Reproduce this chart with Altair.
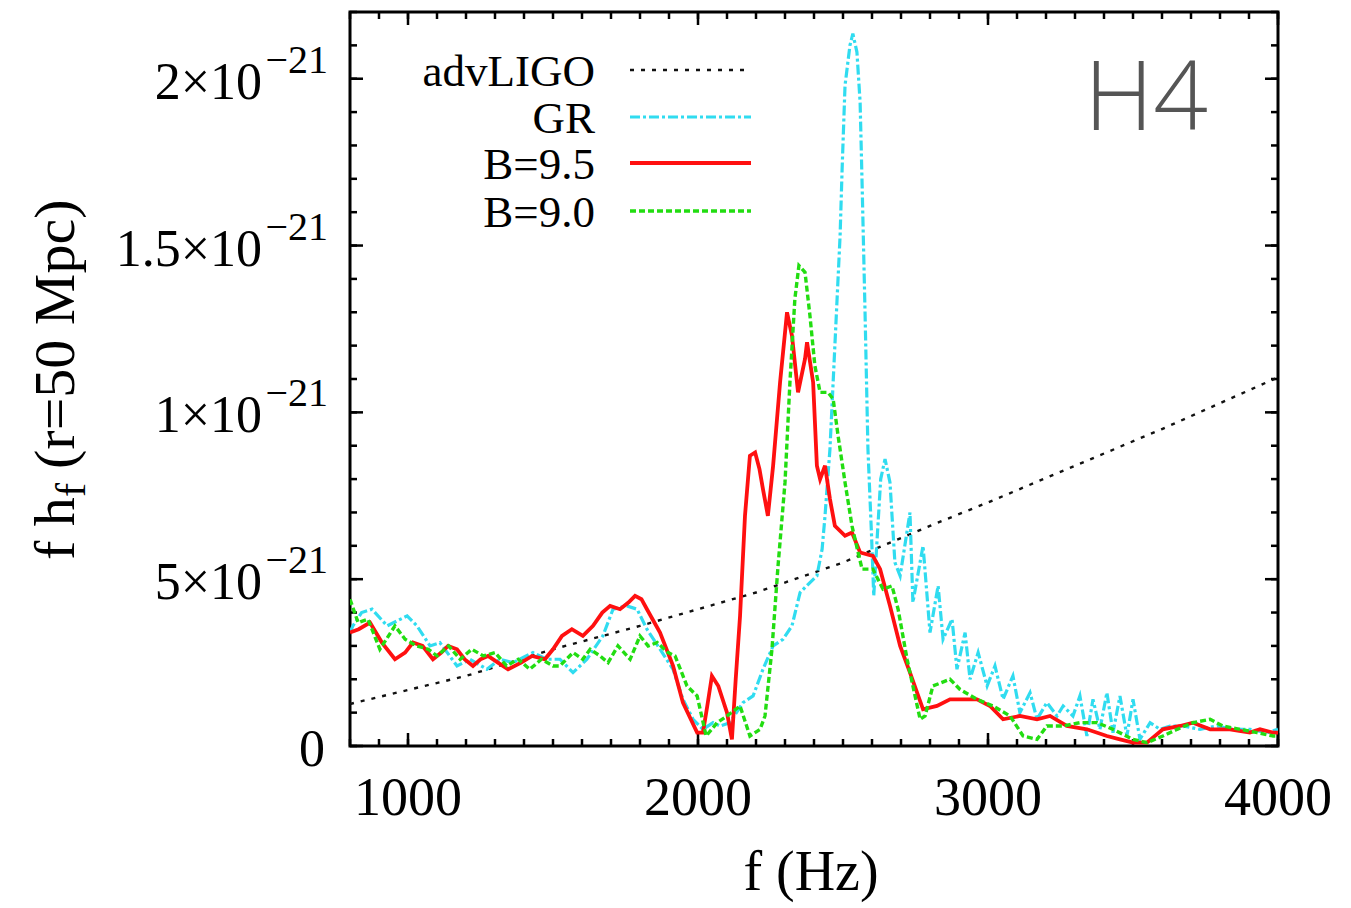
import altair as alt
import pandas as pd

# ---------------- data (y values in units of 1e-21) ----------------
F_LIGO = [800, 1000, 1200, 1500, 1800, 2000, 2200, 2500, 2800, 3000, 3300, 3600, 4000]
V_LIGO = [0.126, 0.168, 0.21, 0.29, 0.36, 0.41, 0.46, 0.55, 0.66, 0.73, 0.84, 0.95, 1.105]

F_GR = [800, 810, 840, 876, 928, 997, 1031, 1076, 1110, 1169, 1214, 1272, 1317, 1362, 1431, 1479,
        1524, 1569, 1617, 1672, 1707, 1755, 1790, 1824, 1869, 1914, 1948, 1983, 2017, 2052, 2076,
        2110, 2155, 2190, 2224, 2259, 2293, 2324, 2352, 2386, 2410, 2428, 2438, 2455, 2472, 2490,
        2497, 2507, 2524, 2534, 2548, 2559, 2566, 2576, 2586, 2598, 2606, 2630, 2645, 2662, 2679,
        2697, 2731, 2741, 2776, 2800, 2828, 2845, 2876, 2893, 2921, 2938, 2966, 2997, 3024, 3052,
        3086, 3110, 3145, 3169, 3203, 3238, 3259, 3293, 3317, 3341, 3362, 3386, 3410, 3431, 3455,
        3479, 3500, 3524, 3559, 3593, 3628, 3672, 3731, 3790, 3845, 3903, 3962, 4000]
V_GR = [0.34, 0.36, 0.40, 0.41, 0.36, 0.39, 0.36, 0.30, 0.31, 0.24, 0.26, 0.23, 0.26, 0.25, 0.28, 0.26,
        0.26, 0.22, 0.26, 0.33, 0.41, 0.42, 0.41, 0.35, 0.29, 0.23, 0.14, 0.08, 0.05, 0.07, 0.06,
        0.07, 0.13, 0.15, 0.23, 0.30, 0.32, 0.36, 0.46, 0.49, 0.51, 0.59, 0.69, 0.89, 1.20, 1.53,
        1.73, 1.98, 2.10, 2.135, 2.08, 1.93, 1.68, 1.30, 0.89, 0.64, 0.45, 0.80, 0.86, 0.79, 0.55,
        0.51, 0.70, 0.43, 0.60, 0.34, 0.48, 0.32, 0.38, 0.23, 0.34, 0.20, 0.28, 0.18, 0.24, 0.14,
        0.21, 0.10, 0.16, 0.08, 0.13, 0.09, 0.12, 0.09, 0.15, 0.03, 0.14, 0.05, 0.16, 0.04, 0.15,
        0.03, 0.14, 0.02, 0.07, 0.05, 0.06, 0.06, 0.05, 0.06, 0.05, 0.05, 0.04, 0.05]

F_B95 = [800, 830, 869, 910, 955, 990, 1017, 1050, 1086, 1115,
         1138, 1169, 1195, 1224, 1250, 1276, 1310, 1345, 1390, 1428,
         1472, 1500, 1531, 1565, 1603, 1638, 1670, 1697, 1731, 1760,
         1783, 1805, 1824, 1869, 1914, 1948, 1997, 2017, 2032, 2048,
         2070, 2100, 2117, 2130, 2145, 2162, 2179, 2197, 2212, 2224,
         2241, 2259, 2283, 2307, 2324, 2345, 2369, 2376, 2397, 2410,
         2421, 2438, 2455, 2472, 2507, 2531, 2559, 2603, 2628, 2662,
         2697, 2731, 2776, 2824, 2869, 2914, 2962, 3007, 3052, 3110,
         3169, 3214, 3272, 3341, 3410, 3455, 3500, 3548, 3603, 3662,
         3707, 3766, 3834, 3903, 3938, 3983, 4000]
V_B95 = [0.34, 0.35, 0.37, 0.31, 0.26, 0.28, 0.31, 0.30, 0.26, 0.28,
         0.30, 0.29, 0.26, 0.24, 0.26, 0.27, 0.25, 0.23, 0.25, 0.27,
         0.26, 0.29, 0.33, 0.35, 0.33, 0.36, 0.40, 0.42, 0.41, 0.43,
         0.45, 0.44, 0.41, 0.34, 0.24, 0.13, 0.04, 0.04, 0.12, 0.21,
         0.18, 0.10, 0.02, 0.20, 0.39, 0.69, 0.87, 0.88, 0.83, 0.77,
         0.69, 0.84, 1.09, 1.30, 1.23, 1.06, 1.16, 1.21, 1.09, 0.84,
         0.80, 0.84, 0.74, 0.66, 0.63, 0.64, 0.58, 0.57, 0.53, 0.42,
         0.30, 0.22, 0.11, 0.12, 0.14, 0.14, 0.14, 0.12, 0.08, 0.09,
         0.08, 0.09, 0.06, 0.05, 0.03, 0.02, 0.01, 0.01, 0.05, 0.06,
         0.07, 0.05, 0.05, 0.04, 0.05, 0.04, 0.04]

F_B90 = [800, 828, 862, 903, 955, 990, 1030, 1070, 1100, 1140,
         1180, 1220, 1260, 1300, 1340, 1380, 1420, 1460, 1500, 1524,
         1569, 1603, 1628, 1662, 1690, 1724, 1766, 1800, 1828, 1859,
         1897, 1921, 1962, 1997, 2010, 2028, 2066, 2100, 2145, 2179,
         2214, 2231, 2255, 2276, 2300, 2317, 2334, 2348, 2369, 2386,
         2403, 2421, 2448, 2466, 2483, 2507, 2531, 2552, 2566, 2603,
         2638, 2669, 2690, 2721, 2741, 2766, 2783, 2810, 2869, 2903,
         2962, 3017, 3076, 3121, 3169, 3203, 3259, 3317, 3376, 3431,
         3500, 3548, 3603, 3652, 3707, 3766, 3810, 3869, 3928, 3983, 4000]
V_B90 = [0.44, 0.37, 0.38, 0.29, 0.36, 0.32, 0.30, 0.29, 0.27, 0.30,
         0.26, 0.29, 0.27, 0.28, 0.24, 0.26, 0.23, 0.26, 0.24, 0.24,
         0.28, 0.26, 0.29, 0.27, 0.25, 0.30, 0.26, 0.33, 0.30, 0.31,
         0.28, 0.27, 0.18, 0.15, 0.10, 0.03, 0.07, 0.09, 0.12, 0.03,
         0.05, 0.09, 0.29, 0.54, 0.79, 1.09, 1.34, 1.44, 1.42, 1.29,
         1.14, 1.06, 1.06, 1.04, 0.93, 0.79, 0.66, 0.58, 0.53, 0.53,
         0.47, 0.48, 0.41, 0.26, 0.18, 0.08, 0.09, 0.18, 0.20, 0.17,
         0.14, 0.12, 0.09, 0.03, 0.02, 0.06, 0.06, 0.07, 0.07, 0.05,
         0.02, 0.01, 0.03, 0.05, 0.07, 0.08, 0.06, 0.05, 0.04, 0.03, 0.03]

SERIES_NAMES = ["advLIGO", "GR", "B=9.5", "B=9.0"]

X_LABEL_VALUES = [1000, 2000, 3000, 4000]
X_LABEL_TEXT = ["1000", "2000", "3000", "4000"]
X_MAJOR = [1000, 2000, 3000, 4000]
X_MINOR = list(range(800, 4001, 100))
Y_MAJOR = [0.0, 0.5, 1.0, 1.5, 2.0]
Y_MINOR = [round(0.1 * i, 1) for i in range(0, 23)]
Y_LABEL_MANT = ["0", "5×10", "1×10", "1.5×10", "2×10"]
Y_LABEL_EXP = ["", "−21", "−21", "−21", "−21"]
X_TITLE = "f (Hz)"

# ---------------- styles ----------------
W, H = 928, 734
SERIF = "Liberation Serif"
STYLES = {
    "advLIGO": dict(color="#111111", strokeDash=[4, 7], strokeWidth=2.4),
    "GR": dict(color="#30dcf0", strokeDash=[10, 3, 3, 3], strokeWidth=3.2),
    "B=9.5": dict(color="#ff1010", strokeWidth=3.8),
    "B=9.0": dict(color="#22dd11", strokeDash=[6, 3], strokeWidth=3.4),
}

xs = alt.Scale(domain=[800, 4000], nice=False, zero=False)
ys = alt.Scale(domain=[0, 2.2], nice=False, zero=False)

one = alt.Data(values=[{"k": 1}])


def series(f, v, name):
    df = pd.DataFrame({"f": f, "v": v})
    return alt.Chart(df).mark_line(clip=True, **STYLES[name]).encode(
        x=alt.X("f:Q", scale=xs, axis=None),
        y=alt.Y("v:Q", scale=ys, axis=None),
    )


layers = []

tick_color = "black"
xmaj = pd.DataFrame({"t": X_MAJOR})
xmin = pd.DataFrame({"t": X_MINOR})
ymaj = pd.DataFrame({"t": Y_MAJOR})
ymin = pd.DataFrame({"t": Y_MINOR})

layers.append(alt.Chart(xmaj).mark_rule(color=tick_color, strokeWidth=2.5).encode(
    x=alt.X("t:Q", scale=xs, axis=None), y=alt.value(H), y2=alt.value(H - 13)))
layers.append(alt.Chart(xmaj).mark_rule(color=tick_color, strokeWidth=2.5).encode(
    x=alt.X("t:Q", scale=xs, axis=None), y=alt.value(0), y2=alt.value(13)))
layers.append(alt.Chart(xmin).mark_rule(color=tick_color, strokeWidth=2.5).encode(
    x=alt.X("t:Q", scale=xs, axis=None), y=alt.value(H), y2=alt.value(H - 7)))
layers.append(alt.Chart(xmin).mark_rule(color=tick_color, strokeWidth=2.5).encode(
    x=alt.X("t:Q", scale=xs, axis=None), y=alt.value(0), y2=alt.value(7)))
layers.append(alt.Chart(ymaj).mark_rule(color=tick_color, strokeWidth=2.5).encode(
    y=alt.Y("t:Q", scale=ys, axis=None), x=alt.value(0), x2=alt.value(13)))
layers.append(alt.Chart(ymaj).mark_rule(color=tick_color, strokeWidth=2.5).encode(
    y=alt.Y("t:Q", scale=ys, axis=None), x=alt.value(W), x2=alt.value(W - 13)))
layers.append(alt.Chart(ymin).mark_rule(color=tick_color, strokeWidth=2.5).encode(
    y=alt.Y("t:Q", scale=ys, axis=None), x=alt.value(0), x2=alt.value(7)))
layers.append(alt.Chart(ymin).mark_rule(color=tick_color, strokeWidth=2.5).encode(
    y=alt.Y("t:Q", scale=ys, axis=None), x=alt.value(W), x2=alt.value(W - 7)))

# x tick labels and title
xlab = pd.DataFrame({"t": X_LABEL_VALUES, "s": X_LABEL_TEXT})
layers.append(alt.Chart(xlab).mark_text(align="center", baseline="alphabetic", font=SERIF,
                                        fontSize=54, color="black").encode(
    x=alt.X("t:Q", scale=xs, axis=None), y=alt.value(H + 69), text="s:N"))
layers.append(alt.Chart(one).mark_text(text=X_TITLE, align="center", baseline="alphabetic",
                                       font=SERIF, fontSize=56, color="black").encode(
    x=alt.value(W / 2 - 3), y=alt.value(878)))

# y tick labels: mantissa + superscript exponent
ylab = pd.DataFrame({"t": Y_MAJOR, "m": Y_LABEL_MANT, "e": Y_LABEL_EXP})
layers.append(alt.Chart(ylab).transform_filter("datum.t == 0").mark_text(
    align="right", baseline="middle", font=SERIF, fontSize=52, color="black", dy=4).encode(
    y=alt.Y("t:Q", scale=ys, axis=None), x=alt.value(-25), text="m:N"))
layers.append(alt.Chart(ylab).transform_filter("datum.t != 0").mark_text(
    align="right", baseline="middle", font=SERIF, fontSize=52, color="black", dy=4).encode(
    y=alt.Y("t:Q", scale=ys, axis=None), x=alt.value(-88), text="m:N"))
layers.append(alt.Chart(ylab).transform_filter("datum.t != 0").mark_text(
    align="right", baseline="middle", font=SERIF, fontSize=40, color="black", dy=-18).encode(
    y=alt.Y("t:Q", scale=ys, axis=None), x=alt.value(-22), text="e:N"))

# y axis title (with subscript)
layers.append(alt.Chart(one).mark_text(text="f h", align="left", baseline="alphabetic", angle=270,
                                       font=SERIF, fontSize=58, color="black").encode(
    x=alt.value(-276), y=alt.value(548)))
layers.append(alt.Chart(one).mark_text(text="f", align="left", baseline="alphabetic", angle=270,
                                       font=SERIF, fontSize=42, color="black").encode(
    x=alt.value(-265), y=alt.value(485)))
layers.append(alt.Chart(one).mark_text(text="(r=50 Mpc)", align="left", baseline="alphabetic",
                                       angle=270, font=SERIF, fontSize=58, color="black").encode(
    x=alt.value(-276), y=alt.value(457)))

# curves
layers.append(series(F_LIGO, V_LIGO, "advLIGO"))
layers.append(series(F_GR, V_GR, "GR"))
layers.append(series(F_B95, V_B95, "B=9.5"))
layers.append(series(F_B90, V_B90, "B=9.0"))

# legend (label on left, line sample on right)
row_y = [58, 105, 151, 199]
for name, ry in zip(SERIES_NAMES, row_y):
    st = STYLES[name]
    layers.append(alt.Chart(alt.Data(values=[{"name": name}])).mark_text(
        align="right", baseline="middle", font=SERIF, fontSize=45, color="black").encode(
        x=alt.value(245), y=alt.value(ry + 2), text="name:N"))
    layers.append(alt.Chart(one).mark_rule(**st).encode(
        x=alt.value(280), x2=alt.value(401), y=alt.value(ry)))

# panel label
layers.append(alt.Chart(one).mark_text(text="H4", align="right", baseline="alphabetic",
                                       font="Open Sans", fontWeight=300, fontSize=96,
                                       color="#555555").encode(
    x=alt.value(1208 - 350), y=alt.value(130 - 12)))

chart = alt.layer(*layers).properties(
    width=W, height=H,
    autosize=alt.AutoSizeParams(type="none"),
    padding={"left": 350, "top": 12, "right": 73, "bottom": 162},
    background="white",
).configure_view(stroke="black", strokeWidth=3)

chart.save("out.html", embed_options={"renderer": "svg", "actions": False})
